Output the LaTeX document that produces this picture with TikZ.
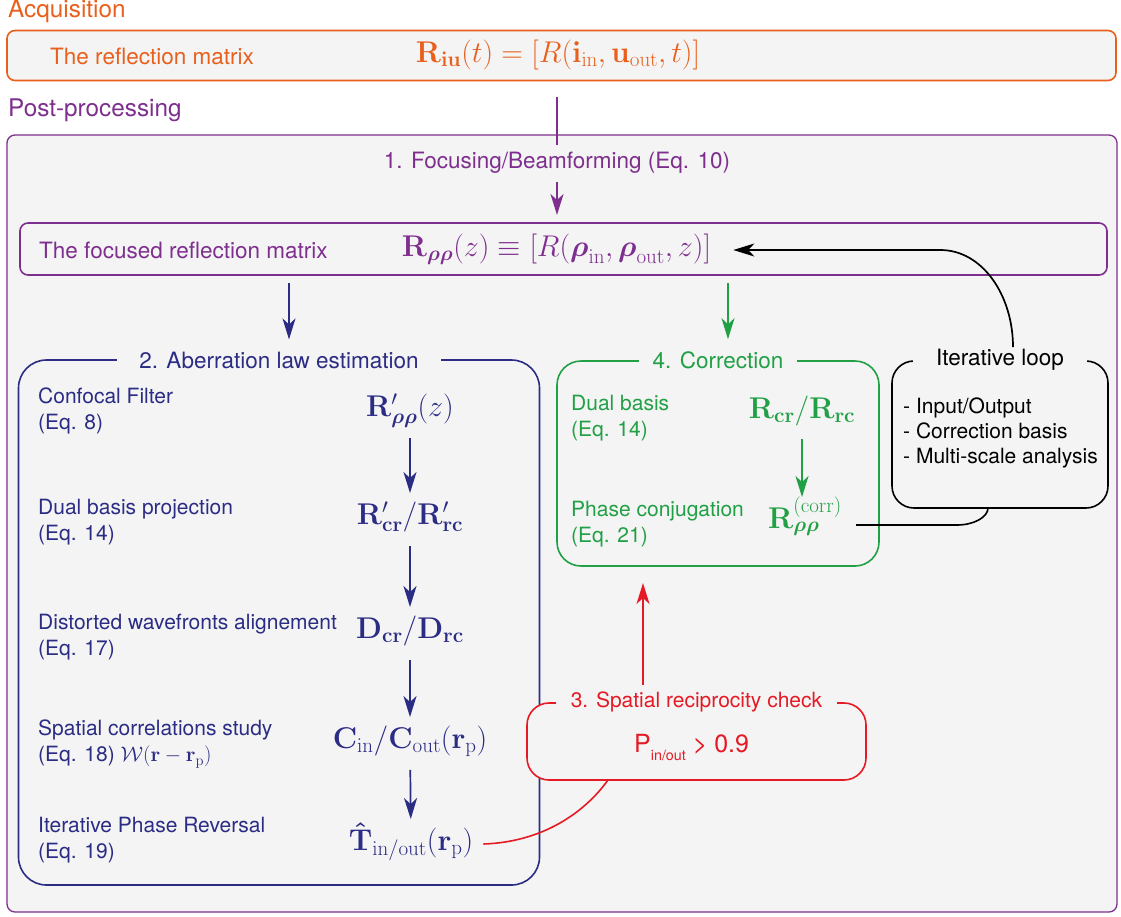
\RequirePackage{fix-cm}
\documentclass[tikz,border=0pt]{standalone}
\usepackage{amsmath}
\usepackage[no-math]{fontspec}
\setmainfont{TeX Gyre Heros}
\usetikzlibrary{arrows.meta}
\definecolor{cOr}{HTML}{E8601C}
\definecolor{cPu}{HTML}{7E2F8E}
\definecolor{cNv}{HTML}{2B2C84}
\definecolor{cGr}{HTML}{21A045}
\definecolor{cRd}{HTML}{E51A24}
\definecolor{cBg}{HTML}{F4F4F4}
\begin{document}
\begin{tikzpicture}[x=1pt,y=-1pt,
  box/.style={draw, line width=1.6pt, inner sep=0pt, outer sep=0pt, rounded corners=#1},
  sec/.style={font=\fontsize{24.3}{29}\selectfont, inner sep=0pt, anchor=west},
  hdr/.style={font=\fontsize{22.5}{27}\selectfont, inner sep=0pt},
  body/.style={font=\fontsize{21}{26}\selectfont, inner sep=0pt, anchor=west, align=left},
  mth/.style={font=\fontsize{30}{36}\selectfont, inner sep=0pt, text height=22pt, text depth=9.5pt},
  ttl/.style={font=\fontsize{22.5}{27}\selectfont, fill=cBg, inner ysep=2pt, inner xsep=#1},
  arr/.style={line width=1.7pt, -{Stealth[length=21pt,width=13pt,inset=6pt]}},
]
\fill[white] (0,0) rectangle (1121,916);
\useasboundingbox (0,0) rectangle (1121,916);

% Acquisition
\node[sec, text=cOr] (acqlbl) at (8,11) {Acquisition};
\node[box=8pt, draw=cOr, fill=cBg, minimum width=1109pt, minimum height=50pt] (acq) at (561.5,55.5) {};
\node[hdr, text=cOr, anchor=west] (acqt) at (50,56) {The reflection matrix};
\node[mth, text=cOr] (acqm) at (558,56) {$\mathbf{R}_{\mathbf{iu}}(t) = [R(\mathbf{i}_{\mathrm{in}}, \mathbf{u}_{\mathrm{out}}, t)]$};

% Post-processing
\node[sec, text=cPu] (postlbl) at (8,110) {Post-processing};
\node[box=8pt, draw=cPu, fill=cBg, line width=1.3pt, minimum width=1110pt, minimum height=777pt] (post) at (562,523.5) {};
\node[hdr, text=cPu] (focl) at (557,163) {1. Focusing/Beamforming (Eq. 10)};
\node[box=8pt, draw=cPu, minimum width=1087pt, minimum height=52pt] (foc) at (563.5,249) {};
\node[hdr, text=cPu, anchor=west] (foct) at (39,250) {The focused reflection matrix};
\node[mth, text=cPu] (focm) at (556.5,250) {$\mathbf{R}_{\boldsymbol{\rho\rho}}(z) \equiv [R(\boldsymbol{\rho}_{\mathrm{in}}, \boldsymbol{\rho}_{\mathrm{out}}, z)]$};
\draw[cPu, line width=1.3pt, shorten <=16pt, shorten >=7pt] (acq.south -| focl.north) -- (focl.north);
\draw[arr, cPu, shorten <=8pt, shorten >=8pt] (focl.south) -- (focl.south |- foc.north);

% Aberration law estimation
\node[box=28pt, draw=cNv, minimum width=521pt, minimum height=525pt] (abx) at (279,622.5) {};
\node[ttl=22pt, text=cNv] (abt) at (279,360) {2. Aberration law estimation};
\node[body, text=cNv] (t1) at (38,411) {Confocal Filter\\(Eq. 8)};
\node[body, text=cNv] (t2) at (38,522) {Dual basis projection\\(Eq. 14)};
\node[body, text=cNv] (t3) at (38,637) {Distorted wavefronts alignement\\(Eq. 17)};
\node[body, text=cNv] (t4) at (38,744) {Spatial correlations study\\(Eq. 18) $\mathcal{W}(\mathbf{r}-\mathbf{r}_{\mathrm{p}})$};
\node[body, text=cNv] (t5) at (38,840) {Iterative Phase Reversal\\(Eq. 19)};
\node[mth, text=cNv] (m1) at (410,410) {$\mathbf{R}'_{\boldsymbol{\rho\rho}}(z)$};
\node[mth, text=cNv] (m2) at (410,518) {$\mathbf{R}'_{\mathbf{cr}}/\mathbf{R}'_{\mathbf{rc}}$};
\node[mth, text=cNv] (m3) at (410,632) {$\mathbf{D}_{\mathbf{cr}}/\mathbf{D}_{\mathbf{rc}}$};
\node[mth, text=cNv] (m4) at (410,742) {$\mathbf{C}_{\mathrm{in}}/\mathbf{C}_{\mathrm{out}}(\mathbf{r}_{\mathrm{p}})$};
\node[mth, text=cNv] (m5) at (411,844) {$\boldsymbol{\hat{\mathbf{T}}}_{\mathrm{in/out}}(\mathbf{r}_{\mathrm{p}})$};
\draw[arr, cNv, shorten <=12pt, shorten >=9pt] (m1) -- (m2);
\draw[arr, cNv, shorten <=12pt, shorten >=9pt] (m2) -- (m3);
\draw[arr, cNv, shorten <=12pt, shorten >=9pt] (m3) -- (m4);
\draw[arr, cNv, shorten <=12pt, shorten >=9pt] (m4) -- (m5);
\draw[arr, cNv, shorten <=8pt, shorten >=10pt] ([xshift=10pt]abt.north |- foc.south) -- ([xshift=10pt]abt.north);

% Correction
\node[box=24pt, draw=cGr, minimum width=322pt, minimum height=205pt] (cbx) at (718,463.5) {};
\node[ttl=14pt, text=cGr] (cot) at (718,360) {4. Correction};
\node[body, text=cGr] (c1) at (571,418) {Dual basis\\(Eq. 14)};
\node[body, text=cGr] (c2) at (571,524) {Phase conjugation\\(Eq. 21)};
\node[mth, text=cGr] (gm1) at (802,412) {$\mathbf{R}_{\mathbf{cr}}/\mathbf{R}_{\mathbf{rc}}$};
\node[mth, text=cGr] (gm2) at (805,522) {$\mathbf{R}^{(\mathrm{corr})}_{\boldsymbol{\rho\rho}}$};
\draw[arr, cGr, shorten <=11pt, shorten >=9pt] (gm1.south) -- (gm1.south |- gm2.north);
\draw[arr, cGr, shorten <=8pt, shorten >=10pt] ([xshift=10pt]cot.north |- foc.south) -- ([xshift=10pt]cot.north);

% Iterative loop
\node[box=22pt, draw=black, minimum width=216pt, minimum height=147pt] (ibx) at (1000,434.5) {};
\node[ttl=23pt, text=black] (itl) at (1000,360) {Iterative loop};
\node[body, font=\fontsize{21}{25}\selectfont] (itxt) at (903,433) {- Input/Output\\- Correction basis\\- Multi-scale analysis};
\draw[arr, black] ([xshift=13pt]itl.north) .. controls +(0,-52) and +(42,0) .. ([xshift=229pt]focm.east) -- ([xshift=22pt]focm.east);
\draw[line width=1.6pt, black] ([xshift=14pt,yshift=-3pt]gm2.east) -- ++(101,0) .. controls +(17,0) and +(0,9) .. ([xshift=-12pt]ibx.south);

% Spatial reciprocity check
\node[box=22pt, draw=cRd, fill=cBg, minimum width=339pt, minimum height=77pt] (rbx) at (696.5,741.5) {};
\node[ttl=15pt, text=cRd, font=\fontsize{21}{26}\selectfont] (rt) at (696.5,702) {3. Spatial reciprocity check};
\node[inner sep=0pt, anchor=base west, text=cRd, font=\fontsize{25}{30}\selectfont] (pv) at (634,752) {P\raisebox{-8pt}{\fontsize{14.3}{17}\selectfont in/out} > 0.9};
\draw[arr, cRd, shorten <=5pt, shorten >=17pt] ([xshift=-53.5pt]rt.north) -- ([xshift=-53.5pt]rt.north |- cbx.south);
\draw[cRd, line width=1.6pt] ([xshift=10pt]m5.east) .. controls +(60,-2) and +(-23,32) .. ([xshift=-88.5pt]rbx.south);
\end{tikzpicture}
\end{document}
